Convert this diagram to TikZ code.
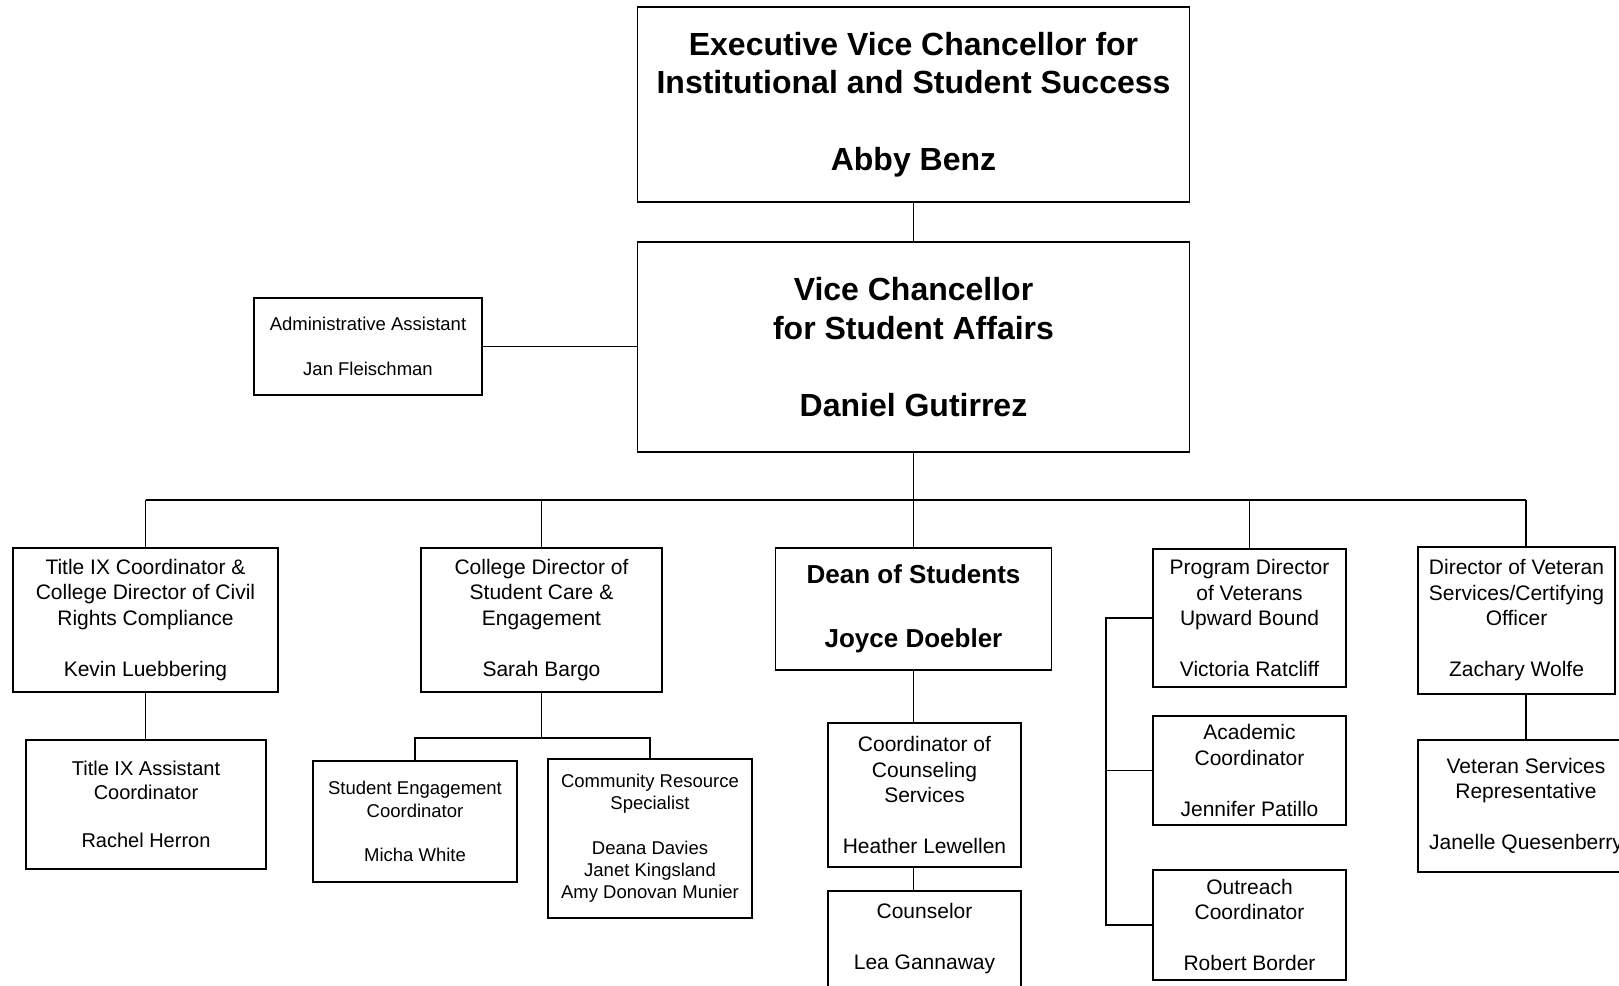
\documentclass[tikz,border=0pt]{standalone}
\usepackage{fontspec}
\setmainfont{Liberation Sans}
\usetikzlibrary{calc}
\newcommand{\headfont}{\fontsize{32}{38.5}\selectfont\bfseries}
\newcommand{\deanfont}{\fontsize{26}{32}\selectfont\bfseries}
\newcommand{\unitfont}{\fontsize{21}{25.5}\selectfont}
\newcommand{\asstfont}{\fontsize{20}{24}\selectfont}
\newcommand{\smallfont}{\fontsize{18.5}{22.2}\selectfont}

\begin{document}
\begin{tikzpicture}[x=1pt,y=-1pt,
    unit/.style={draw, line width=1.8pt, align=center, inner sep=0pt, font=\unitfont},
    link/.style={line width=1.8pt}]
  \useasboundingbox (0,0) rectangle (1619,985);
  \clip (0,0) rectangle (1619,985);
  \def\gap{\\[\baselineskip]}
  % top levels
  \node[unit, font=\headfont, minimum width=552pt, minimum height=195pt] (evc) at (913.5,104.5)
    {Executive Vice Chancellor for\\Institutional and Student Success\gap Abby Benz};
  \node[unit, font=\headfont, minimum width=552pt, minimum height=210pt] (vc) at (913.5,347)
    {Vice Chancellor\\for Student Affairs\gap Daniel Gutirrez};
  \node[unit, font=\smallfont, minimum width=228pt, minimum height=97pt] (admin) at (368,346.5)
    {Administrative Assistant\gap Jan Fleischman};
  % direct reports
  \node[unit, minimum width=265pt, minimum height=144pt] (tix) at (145.5,620)
    {Title IX Coordinator \&\\College Director of Civil\\Rights Compliance\gap Kevin Luebbering};
  \node[unit, minimum width=241pt, minimum height=144pt] (care) at (541.5,620)
    {College Director of\\Student Care \&\\Engagement\gap Sarah Bargo};
  \node[unit, font=\deanfont, minimum width=276pt, minimum height=122pt] (dean) at (913.5,609)
    {Dean of Students\gap Joyce Doebler};
  \node[unit, minimum width=193pt, minimum height=138pt] (vub) at (1249.5,618)
    {Program Director\\of Veterans\\Upward Bound\gap Victoria Ratcliff};
  \node[unit, minimum width=197pt, minimum height=147pt] (vet) at (1516.5,620.5)
    {Director of Veteran\\Services/Certifying\\Officer\gap Zachary Wolfe};
  % staff
  \node[unit, font=\asstfont, minimum width=240pt, minimum height=129pt] (tixasst) at (146,804.5)
    {Title IX Assistant\\Coordinator\gap Rachel Herron};
  \node[unit, font=\smallfont, minimum width=204pt, minimum height=121pt] (engage) at (415,821.5)
    {Student Engagement\\Coordinator\gap Micha White};
  \node[unit, font=\smallfont, minimum width=204pt, minimum height=159pt] (community) at (650,838.5)
    {Community Resource\\Specialist\gap Deana Davies\\Janet Kingsland\\Amy Donovan Munier};
  \node[unit, minimum width=193pt, minimum height=144pt] (counsel) at (924.5,795)
    {Coordinator of\\Counseling\\Services\gap Heather Lewellen};
  \node[unit, minimum width=193pt, minimum height=96pt] (counselor) at (924.5,939)
    {Counselor\gap Lea Gannaway};
  \node[unit, minimum width=193pt, minimum height=109pt] (academic) at (1249.5,770.5)
    {Academic\\Coordinator\gap Jennifer Patillo};
  \node[unit, minimum width=193pt, minimum height=110pt] (outreach) at (1249.5,925)
    {Outreach\\Coordinator\gap Robert Border};
  \node[unit, minimum width=216pt, minimum height=132pt] (vetrep) at (1526,806)
    {Veteran Services\\Representative\gap Janelle Quesenberry};
  % connectors
  \coordinate (busL) at (145.5,500);
  \coordinate (busR) at (1526,500);
  \coordinate (cj) at (541.5,738);
  \coordinate (vline) at (1106,0);
  \draw[link] (evc.south) -- (vc.north);
  \draw[line width=1pt] (admin.east) -- (admin.east -| vc.west);
  \draw[link] (vc.south) -- (vc.south |- busL);
  \draw[link] (busL) -- (busR);
  \foreach \n in {tix,care,dean,vub} { \draw[link] (\n.north) -- (\n.north |- busL); }
  \draw[link] (busR) -- (busR |- vet.north);
  \draw[link] (tix.south) -- (tix.south |- tixasst.north);
  \draw[link] (care.south) -- (cj);
  \draw[link] (engage.north) |- (cj) -| (community.north);
  \draw[link] (dean.south) -- (dean.south |- counsel.north);
  \draw[link] (dean.south |- counsel.south) -- (dean.south |- counselor.north);
  \draw[link] (vub.west) -- (vub.west -| vline) |- (outreach.west);
  \draw[link] (academic.west) -- (academic.west -| vline);
  \draw[link] (busR |- vet.south) -- (busR |- vetrep.north);
\end{tikzpicture}
\end{document}
